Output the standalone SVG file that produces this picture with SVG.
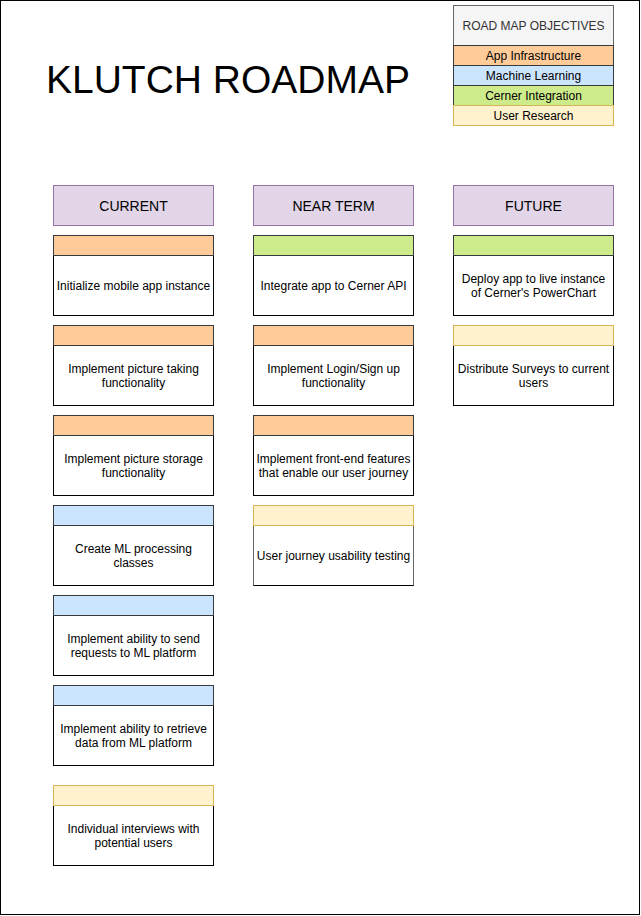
<svg xmlns="http://www.w3.org/2000/svg" width="641" height="916" viewBox="0 0 641 916">
<style>
text{font-family:"Liberation Sans",Arial,sans-serif;fill:#000;text-anchor:middle}
.t{font-size:12px}
.h{font-size:14px}
.body{fill:#fff;stroke:#000;stroke-width:1}
.hdr{fill:#e1d5e7;stroke:#9673a6}
.or{fill:#ffcc99;stroke:#36393d}
.bl{fill:#cce5ff;stroke:#36393d}
.gr{fill:#cdeb8b;stroke:#36393d}
.ye{fill:#fff2cc;stroke:#d6b656}
</style>
<rect x="0.5" y="0.5" width="639" height="914" fill="#fff" stroke="#000"/>
<g id="title"><text x="228" y="93" style="font-size:39px">KLUTCH ROADMAP</text></g>
<g id="legend">
<rect x="453.5" y="5.5" width="160" height="40" fill="#f5f5f5" stroke="#666"/>
<text class="t" x="533.5" y="30" style="fill:#333">ROAD MAP OBJECTIVES</text>
<rect class="or" x="453.5" y="45.5" width="160" height="20"/>
<text class="t" x="533.5" y="60">App Infrastructure</text>
<rect class="bl" x="453.5" y="65.5" width="160" height="20"/>
<text class="t" x="533.5" y="80">Machine Learning</text>
<rect class="gr" x="453.5" y="85.5" width="160" height="20"/>
<text class="t" x="533.5" y="100">Cerner Integration</text>
<rect class="ye" x="453.5" y="105.5" width="160" height="20"/>
<text class="t" x="533.5" y="120">User Research</text>
</g>
<g id="hdr-current"><rect class="hdr" x="53.5" y="185.5" width="160" height="40"/><text class="h" x="133.5" y="211">CURRENT</text></g>
<g id="hdr-near"><rect class="hdr" x="253.5" y="185.5" width="160" height="40"/><text class="h" x="333.5" y="211">NEAR TERM</text></g>
<g id="hdr-future"><rect class="hdr" x="453.5" y="185.5" width="160" height="40"/><text class="h" x="533.5" y="211">FUTURE</text></g>

<g id="c1"><rect class="body" x="53.5" y="255.5" width="160" height="60"/><rect class="or" x="53.5" y="235.5" width="160" height="20"/><text class="t" x="133.5" y="290">Initialize mobile app instance</text></g>
<g id="c2"><rect class="body" x="53.5" y="345.5" width="160" height="60"/><rect class="or" x="53.5" y="325.5" width="160" height="20"/><text class="t" x="133.5" y="373">Implement picture taking</text><text class="t" x="133.5" y="387">functionality</text></g>
<g id="c3"><rect class="body" x="53.5" y="435.5" width="160" height="60"/><rect class="or" x="53.5" y="415.5" width="160" height="20"/><text class="t" x="133.5" y="463">Implement picture storage</text><text class="t" x="133.5" y="477">functionality</text></g>
<g id="c4"><rect class="body" x="53.5" y="525.5" width="160" height="60"/><rect class="bl" x="53.5" y="505.5" width="160" height="20"/><text class="t" x="133.5" y="553">Create ML processing</text><text class="t" x="133.5" y="567">classes</text></g>
<g id="c5"><rect class="body" x="53.5" y="615.5" width="160" height="60"/><rect class="bl" x="53.5" y="595.5" width="160" height="20"/><text class="t" x="133.5" y="643">Implement ability to send</text><text class="t" x="133.5" y="657">requests to ML platform</text></g>
<g id="c6"><rect class="body" x="53.5" y="705.5" width="160" height="60"/><rect class="bl" x="53.5" y="685.5" width="160" height="20"/><text class="t" x="133.5" y="733">Implement ability to retrieve</text><text class="t" x="133.5" y="747">data from ML platform</text></g>
<g id="c7"><rect class="body" x="53.5" y="805.5" width="160" height="60"/><rect class="ye" x="53.5" y="785.5" width="160" height="20"/><text class="t" x="133.5" y="833">Individual interviews with</text><text class="t" x="133.5" y="847">potential users</text></g>

<g id="n1"><rect class="body" x="253.5" y="255.5" width="160" height="60"/><rect class="gr" x="253.5" y="235.5" width="160" height="20"/><text class="t" x="333.5" y="290">Integrate app to Cerner API</text></g>
<g id="n2"><rect class="body" x="253.5" y="345.5" width="160" height="60"/><rect class="or" x="253.5" y="325.5" width="160" height="20"/><text class="t" x="333.5" y="373">Implement Login/Sign up</text><text class="t" x="333.5" y="387">functionality</text></g>
<g id="n3"><rect class="body" x="253.5" y="435.5" width="160" height="60"/><rect class="or" x="253.5" y="415.5" width="160" height="20"/><text class="t" x="333.5" y="463">Implement front-end features</text><text class="t" x="333.5" y="477">that enable our user journey</text></g>
<g id="n4"><rect class="body" x="253.5" y="525.5" width="160" height="60" style="stroke:#666"/><line x1="253.5" y1="585.5" x2="413.5" y2="585.5" stroke="#000"/><rect class="ye" x="253.5" y="505.5" width="160" height="20"/><text class="t" x="333.5" y="560">User journey usability testing</text></g>

<g id="f1"><rect class="body" x="453.5" y="255.5" width="160" height="60"/><rect class="gr" x="453.5" y="235.5" width="160" height="20"/><text class="t" x="533.5" y="283">Deploy app to live instance</text><text class="t" x="533.5" y="297">of Cerner's PowerChart</text></g>
<g id="f2"><rect class="body" x="453.5" y="345.5" width="160" height="60"/><rect class="ye" x="453.5" y="325.5" width="160" height="20"/><text class="t" x="533.5" y="373">Distribute Surveys to current</text><text class="t" x="533.5" y="387">users</text></g>
<g id="connectors"/>
</svg>
